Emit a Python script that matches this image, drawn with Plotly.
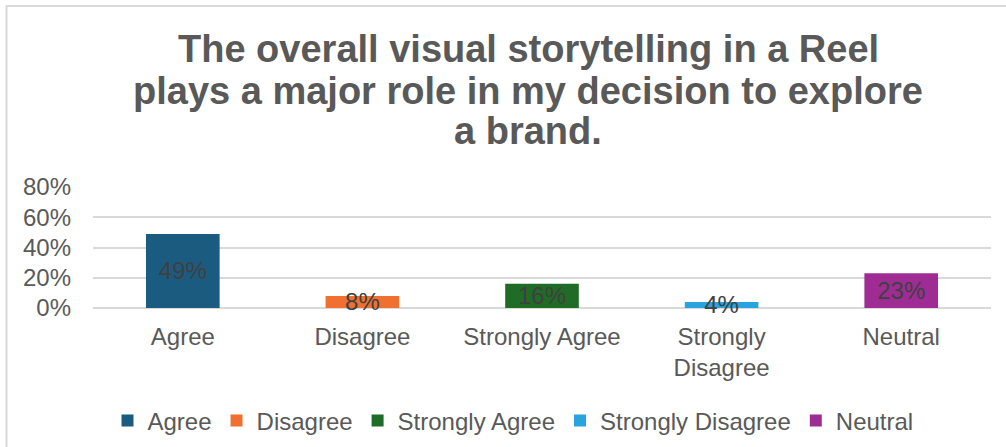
import plotly.graph_objects as go

# Survey responses
categories = ["Agree", "Disagree", "Strongly Agree", "Strongly Disagree", "Neutral"]
tick_labels = ["Agree", "Disagree", "Strongly Agree", "Strongly<br>Disagree", "Neutral"]
shares = [0.49, 0.08, 0.16, 0.04, 0.23]
colors = ["#1b5b7f", "#ef7030", "#1f6c26", "#29a3de", "#9f2c95"]

y_ticks = [0, 0.2, 0.4, 0.6, 0.8]

title_lines = [
    "The overall visual storytelling in a Reel",
    "plays a major role in my decision to explore",
    "a brand.",
]

FONT = "Liberation Sans, Arial, sans-serif"
GRAY = "#595959"

W, H = 1006, 447
ML, MR, MT, MB = 93, 15, 187, 139

fig = go.Figure()
for cat, val, col in zip(categories, shares, colors):
    fig.add_trace(go.Bar(
        x=[cat], y=[val], name=cat,
        marker=dict(color=col, line=dict(width=0)),
        width=0.41,
        text=[f"{round(val * 100)}%"],
        textposition="inside",
        insidetextanchor="middle",
        textfont=dict(family=FONT, size=24, color="#404040"),
        cliponaxis=False,
        hoverinfo="skip",
    ))

pw = W - ML - MR
ph = H - MT - MB
# outer chart border
fig.add_shape(
    type="rect", xref="paper", yref="paper",
    x0=(6.5 - ML) / pw, x1=(W + 5 - ML) / pw,
    y0=(H - MB - (H + 5)) / ph, y1=(H - MB - 6) / ph,
    line=dict(color="#d9d9d9", width=2), fillcolor="rgba(0,0,0,0)", layer="below",
)

# three-line chart title, tightly spaced
title_centers = [49, 90.5, 131]
for line, yc in zip(title_lines, title_centers):
    fig.add_annotation(
        text=f"<b>{line}</b>", xref="paper", yref="paper",
        x=(528 - ML) / pw, y=(H - MB - yc) / ph,
        xanchor="center", yanchor="middle", showarrow=False,
        font=dict(family=FONT, size=38, color=GRAY),
    )

fig.update_layout(
    width=W, height=H,
    margin=dict(l=ML, r=MR, t=MT, b=MB, pad=0),
    paper_bgcolor="white", plot_bgcolor="white",
    barmode="overlay",
    uniformtext=dict(minsize=24, mode="show"),
    font=dict(family=FONT, color=GRAY, size=24),
    showlegend=True,
    legend=dict(
        orientation="h", x=513 / W, xanchor="center", xref="container",
        y=1 - 421 / H, yanchor="middle", yref="container",
        font=dict(family=FONT, size=24, color=GRAY),
        traceorder="normal", itemwidth=30,
    ),
    xaxis=dict(
        categoryorder="array", categoryarray=categories,
        tickvals=categories, ticktext=tick_labels,
        showgrid=False, showline=False, zeroline=False,
        ticks="", ticklabelstandoff=12,
        tickfont=dict(family=FONT, size=24, color=GRAY),
    ),
    yaxis=dict(
        range=[0, 0.8], tickvals=y_ticks, tickformat=".0%",
        showgrid=True, gridcolor="#d9d9d9", gridwidth=1.5,
        zeroline=True, zerolinecolor="#d9d9d9", zerolinewidth=1.5,
        showline=False, ticks="", ticklabelstandoff=21,
        tickfont=dict(family=FONT, size=24, color=GRAY),
    ),
)

fig.write_html("out.html")
